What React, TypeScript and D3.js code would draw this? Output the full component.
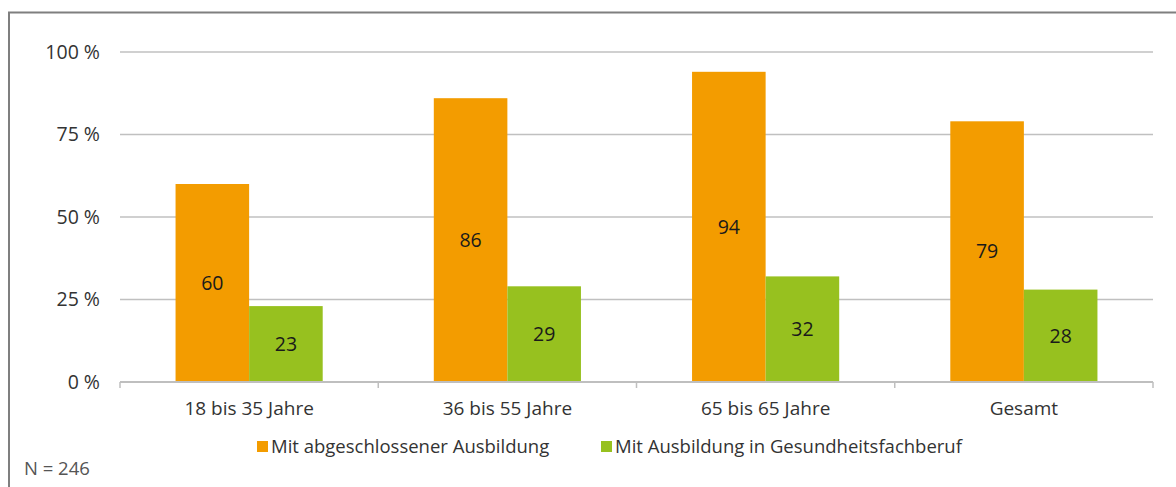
import React, { useEffect, useRef } from 'react';
import * as d3 from 'd3';

const categories = ['18 bis 35 Jahre', '36 bis 55 Jahre', '65 bis 65 Jahre', 'Gesamt'];
const seriesNames = ['Mit abgeschlossener Ausbildung', 'Mit Ausbildung in Gesundheitsfachberuf'];
const abgeschlossen = [60, 86, 94, 79];
const gesundheit = [23, 29, 32, 28];
const yTicks = [0, 25, 50, 75, 100];
const colors = ['#F39C00', '#97C11F'];

const W = 1176;
const H = 487;
const font = '"Open Sans", "Noto Sans", sans-serif';

export default function App() {
  const ref = useRef<SVGSVGElement>(null);

  useEffect(() => {
    const svg = d3.select(ref.current);
    svg.selectAll('*').remove();

    // frame
    svg.append('path')
      .attr('d', `M9,${H + 5}V12.5H${W + 5}`)
      .attr('fill', 'none')
      .attr('stroke', '#7f7f7f')
      .attr('stroke-width', 2);

    const left = 120, right = 1153, top = 52, bottom = 382;

    const x = d3.scaleBand().domain(categories).range([left, right]);
    const y = d3.scaleLinear().domain([0, 100]).range([bottom, top]);

    // gridlines
    svg.append('g').selectAll('line')
      .data(yTicks.filter(t => t > 0))
      .enter().append('line')
      .attr('x1', left).attr('x2', right)
      .attr('y1', d => y(d)).attr('y2', d => y(d))
      .attr('stroke', '#c0c0c0')
      .attr('stroke-width', 1.5);

    // y labels
    svg.append('g').selectAll('text')
      .data(yTicks)
      .enter().append('text')
      .attr('x', 100)
      .attr('y', d => y(d))
      .attr('dy', '0.35em')
      .attr('text-anchor', 'end')
      .attr('font-family', font)
      .attr('font-size', 19.5)
      .attr('fill', '#333')
      .text(d => `${d} %`);

    const inner = d3.scaleBand().domain(['0', '1']).range([0, x.bandwidth()]).paddingOuter(0.755);
    const series = [abgeschlossen, gesundheit];

    series.forEach((vals, si) => {
      const g = svg.append('g');
      g.selectAll('rect')
        .data(vals)
        .enter().append('rect')
        .attr('x', (d, i) => (x(categories[i]) as number) + (inner(String(si)) as number))
        .attr('y', d => y(d))
        .attr('width', inner.bandwidth())
        .attr('height', d => bottom - y(d))
        .attr('fill', colors[si]);
      g.selectAll('text')
        .data(vals)
        .enter().append('text')
        .attr('x', (d, i) => (x(categories[i]) as number) + (inner(String(si)) as number) + inner.bandwidth() / 2)
        .attr('y', d => (y(d) + bottom) / 2)
        .attr('dy', '0.35em')
        .attr('text-anchor', 'middle')
        .attr('font-family', font)
        .attr('font-size', 19.5)
        .attr('fill', '#1a1a1a')
        .text(d => d);
    });

    // x axis
    const ax = svg.append('g');
    ax.append('line')
      .attr('x1', left).attr('x2', right)
      .attr('y1', bottom).attr('y2', bottom)
      .attr('stroke', '#bfbfbf').attr('stroke-width', 2);
    const bounds = categories.map(c => x(c) as number).concat([right]);
    ax.selectAll('line.tick')
      .data(bounds)
      .enter().append('line')
      .attr('class', 'tick')
      .attr('x1', d => d).attr('x2', d => d)
      .attr('y1', bottom).attr('y2', bottom + 6)
      .attr('stroke', '#bfbfbf').attr('stroke-width', 1.5);
    ax.selectAll('text')
      .data(categories)
      .enter().append('text')
      .attr('x', d => (x(d) as number) + x.bandwidth() / 2)
      .attr('y', 408)
      .attr('dy', '0.35em')
      .attr('text-anchor', 'middle')
      .attr('font-family', font)
      .attr('font-size', 19)
      .attr('fill', '#333')
      .text(d => d);

    // legend
    const legX = [257, 601];
    seriesNames.forEach((name, i) => {
      svg.append('rect')
        .attr('x', legX[i]).attr('y', 441)
        .attr('width', 11).attr('height', 11)
        .attr('fill', colors[i]);
      svg.append('text')
        .attr('x', legX[i] + 14).attr('y', 447)
        .attr('dy', '0.35em')
        .attr('font-family', font)
        .attr('font-size', 18.5)
        .attr('fill', '#333')
        .text(name);
    });

    svg.append('text')
      .attr('x', 24).attr('y', 469)
      .attr('dy', '0.35em')
      .attr('font-family', font)
      .attr('font-size', 18.5)
      .attr('fill', '#555')
      .text('N = 246');
  }, []);

  return (
    <svg ref={ref} width={W} height={H}
      style={{ position: 'absolute', left: 0, top: 0, background: '#fff' }} />
  );
}
